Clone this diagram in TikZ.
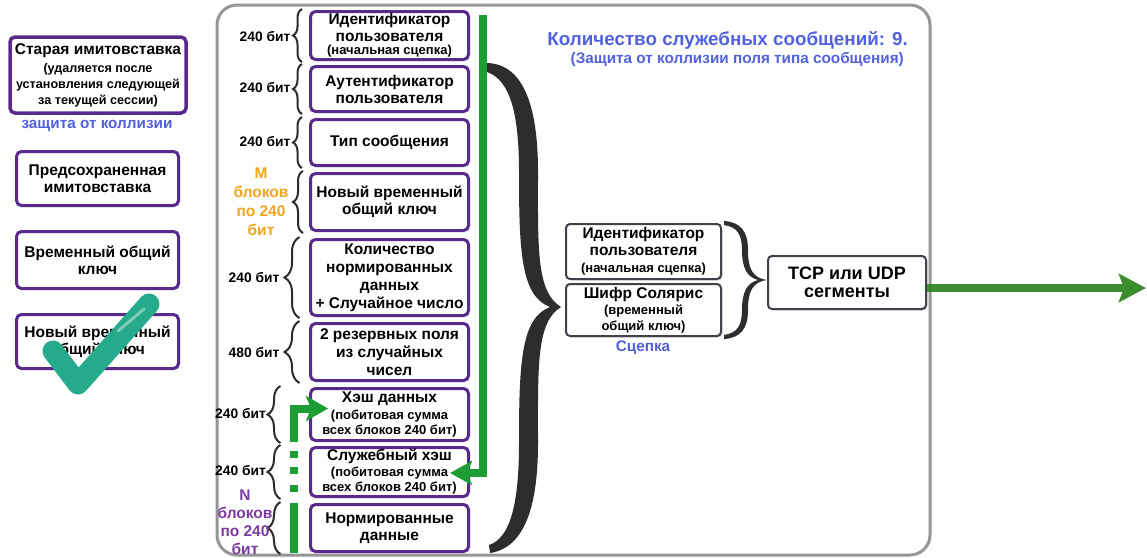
\documentclass[tikz,border=0pt]{standalone}
\usepackage{fontspec}
\setmainfont{Liberation Sans}
\usetikzlibrary{arrows.meta,decorations.pathreplacing,shadows,calc}

\definecolor{boxpurple}{RGB}{88,42,140}
\definecolor{titleblue}{RGB}{82,98,222}
\definecolor{orangelbl}{RGB}{240,165,30}
\definecolor{purplelbl}{RGB}{125,60,160}
\definecolor{flowgreen}{RGB}{28,158,52}
\definecolor{outgreen}{RGB}{58,140,45}
\definecolor{panelgray}{RGB}{150,150,150}
\definecolor{braceblack}{RGB}{45,45,45}
\definecolor{checkteal}{RGB}{38,170,140}
\definecolor{boxgray}{RGB}{65,65,75}

% smaller bold lines inside the boxes
\newcommand\smt[1]{{\fontsize{13}{15}\selectfont #1}}
\newcommand\smtl[1]{{\fontsize{12.6}{15}\selectfont #1}}

\tikzset{
  fld/.style={draw=boxpurple, line width=3pt, rounded corners=5pt, fill=white,
    align=center, inner sep=1pt, text=black,
    font=\bfseries\fontsize{15.5}{17}\selectfont,
    drop shadow={shadow xshift=1.5pt, shadow yshift=-1.5pt, opacity=0.25}},
  mid/.style={fld, minimum width=158pt},
  side/.style={fld, minimum width=162pt},
  gbox/.style={draw=boxgray, line width=2pt, rounded corners=4pt, fill=white,
    align=center, inner sep=1pt, text=black,
    font=\bfseries\fontsize{15.5}{17}\selectfont,
    drop shadow={shadow xshift=1.5pt, shadow yshift=-1.5pt, opacity=0.3}},
  bits/.style={anchor=east, inner sep=1pt, font=\bfseries\fontsize{13.8}{15}\selectfont},
  count/.style={align=center, inner sep=1pt, font=\bfseries\fontsize{15.5}{19}\selectfont},
  brc/.style={decorate, decoration={brace, amplitude=#1}, line width=2pt, draw=braceblack},
  flow/.style={draw=flowgreen, line width=8pt},
  outflow/.style={draw=outgreen, line width=8pt},
}

\begin{document}
\begin{tikzpicture}[x=1pt,y=-1pt]
\useasboundingbox (0,0) rectangle (1147,557);
\fill[white] (0,0) rectangle (1147,557);

% message panel
\draw[panelgray, line width=3pt, rounded corners=20pt] (217,5) rectangle (930,555);

% heading
\node[anchor=east, inner sep=0pt, text=titleblue, font=\bfseries\fontsize{18.8}{20}\selectfont]
  (title) at (908,40) {Количество служебных сообщений: 9.};
\node[anchor=east, inner sep=0pt, text=titleblue, font=\bfseries\fontsize{15.3}{16}\selectfont]
  (subtitle) at (904,59) {(Защита от коллизии поля типа сообщения)};

% big brace gathering the fields
\fill[braceblack] (487,63) .. controls (523,64) and (538,105) .. (538,172)
  .. controls (538,247) and (536,292) .. (561,307)
  .. controls (536,322) and (538,368) .. (538,443)
  .. controls (538,510) and (523,548) .. (490,553)
  -- (489,545)
  .. controls (510,538) and (519,505) .. (519,443)
  .. controls (519,363) and (521,318) .. (550,307)
  .. controls (521,296) and (519,252) .. (519,172)
  .. controls (519,113) and (510,80) .. (487,72) -- cycle;

% brace joining the two chained parts
\fill[braceblack] (724,221) .. controls (741,222) and (748,232) .. (748,250)
  .. controls (748,268) and (752,278) .. (767,280)
  .. controls (752,282) and (748,292) .. (748,310)
  .. controls (748,328) and (741,338) .. (724,339)
  -- (724,335) .. controls (737,333) and (742,326) .. (742,310)
  .. controls (742,292) and (747,283) .. (758,280)
  .. controls (747,277) and (742,268) .. (742,250)
  .. controls (742,234) and (737,227) .. (724,225) -- cycle;

% left column: stored values
\node[side, line width=3.5pt, minimum width=176pt, minimum height=76pt] (L1) at (98,75)
  {Старая имитовставка\\[1pt]\smtl{(удаляется после}\\[-1pt]\smtl{установления следующей}\\[-1pt]\smtl{за текущей сессии)}};
\node[inner sep=0pt, text=titleblue, font=\bfseries\fontsize{15.3}{17}\selectfont] (coll) at (97,126) {защита от коллизии};
\node[side, minimum height=54pt] (L2) at (97.5,178.5) {Предсохраненная\\имитовставка};
\node[side, minimum height=57pt] (L3) at (97.5,260) {Временный общий\\ключ};
\node[side, minimum height=54pt] (L4) at (97.5,341.5) {Новый временный\\общий ключ};

% message fields
\node[mid, minimum height=48pt] (M1) at (389.5,35.5)
  {Идентификатор\\пользователя\\[-4pt]\smt{(начальная сцепка)}};
\node[mid, minimum height=45pt] (M2) at (389.5,89) {Аутентификатор\\пользователя};
\node[mid, minimum height=46pt] (M3) at (389.5,142.5) {Тип сообщения};
\node[mid, minimum height=57pt] (M4) at (389.5,202) {Новый временный\\общий ключ};
\node[mid, minimum height=76pt, font=\bfseries\fontsize{15.5}{18}\selectfont] (M5) at (389.5,277.5)
  {Количество\\нормированных\\данных\\+ Случайное число};
\node[mid, minimum height=57pt, font=\bfseries\fontsize{15.5}{18}\selectfont] (M6) at (389.5,352)
  {2 резервных поля\\из случайных\\чисел};
\node[mid, minimum height=52pt] (M7) at (389.5,414.5)
  {Хэш данных\\[0pt]\smt{(побитовая сумма}\\[-2pt]\smt{всех блоков 240 бит)}};
\node[mid, minimum height=49pt] (M8) at (389.5,472)
  {Служебный хэш\\[-1pt]\smt{(побитовая сумма}\\[-2pt]\smt{всех блоков 240 бит)}};
\node[mid, minimum height=47pt] (M9) at (389.5,528) {Нормированные\\данные};

% field sizes
\draw[brc=9] ($(M1.south west)+(-7,1)$) -- ($(M1.north west)+(-7,-1)$);
\draw[brc=9] ($(M2.south west)+(-7,1)$) -- ($(M2.north west)+(-7,-1)$);
\draw[brc=9] ($(M3.south west)+(-7,1)$) -- ($(M3.north west)+(-7,-1)$);
\draw[brc=10] ($(M4.south west)+(-6,1)$) -- ($(M4.north west)+(-6,-1)$);
\draw[brc=15] ($(M5.south west)+(-9.5,1)$) -- ($(M5.north west)+(-9.5,-1)$);
\draw[brc=15] ($(M6.south west)+(-9.5,1)$) -- ($(M6.north west)+(-9.5,-1)$);
\draw[brc=13] ($(M7.south west)+(-28.5,1)$) -- ($(M7.north west)+(-28.5,-1)$);
\draw[brc=13] ($(M8.south west)+(-28.5,1)$) -- ($(M8.north west)+(-28.5,-1)$);
\draw[brc=13] ($(M9.south west)+(-28.5,1)$) -- ($(M9.north west)+(-28.5,-1)$);

\node[bits] (s1) at ($(M1.west)+(-17.5,1)$) {240 бит};
\node[bits] (s2) at ($(M2.west)+(-17.5,-1)$) {240 бит};
\node[bits] (s3) at ($(M3.west)+(-17.5,-1)$) {240 бит};
\node[count, text=orangelbl] (s4) at (261,202) {M\\блоков\\по 240\\бит};
\node[bits] (s5) at ($(M5.west)+(-28.5,0)$) {240 бит};
\node[bits] (s6) at ($(M6.west)+(-28.5,0)$) {480 бит};
\node[bits] (s7) at ($(M7.west)+(-42,-1)$) {240 бит};
\node[bits] (s8) at ($(M8.west)+(-42,-2)$) {240 бит};
\node[count, text=purplelbl, font=\bfseries\fontsize{15.5}{18}\selectfont] (s9) at (245,522) {N\\блоков\\по 240\\бит};

% chained output parts
\node[gbox, minimum width=155pt, minimum height=55pt] (R1) at (643.5,251.5)
  {Идентификатор\\пользователя\\[0pt]\smt{(начальная сцепка)}};
\node[gbox, minimum width=155pt, minimum height=52pt] (R2) at (643.5,310)
  {Шифр Солярис\\[-1pt]\smt{(временный}\\[-1pt]\smt{общий ключ)}};
\node[inner sep=0pt, text=titleblue, font=\bfseries\fontsize{15.3}{17}\selectfont] (chain) at (643,348) {Сцепка};
\node[gbox, minimum width=158pt, minimum height=53pt, font=\bfseries\fontsize{18}{18}\selectfont] (TCP) at (847,282.5)
  {TCP или UDP\\сегменты};

% hash flows
\coordinate (gtop) at (483,15);
\coordinate (gturn) at (483,473);
\draw[flow, -{Stealth[length=22pt,width=24pt,inset=5pt]}]
  (gtop) -- (gturn) -- ($(M8.east)+(-20,1)$);
\coordinate (nbot) at (294,553);
\coordinate (htip) at ($(M7.west)+(19,-6)$);
\draw[flow, dash pattern=on 50pt off 11pt on 7pt off 11pt on 7pt off 9pt on 7pt off 9pt on 300pt,
  -{Stealth[length=22pt,width=25pt,inset=5pt]}]
  (nbot) -- (nbot |- htip) -- (htip);

% output
\coordinate (out) at (1146,288);
\draw[outflow, -{Stealth[length=27pt,width=28pt,inset=5pt]}] (TCP.east |- out) -- (out);

% check mark over the new key
\draw[checkteal, line width=21pt, line cap=round, line join=round] (53,351) -- (78,384) -- (149,304);
\draw[white, opacity=0.4, line width=3pt, line cap=round] (118,331) -- (144,309);
\end{tikzpicture}
\end{document}
